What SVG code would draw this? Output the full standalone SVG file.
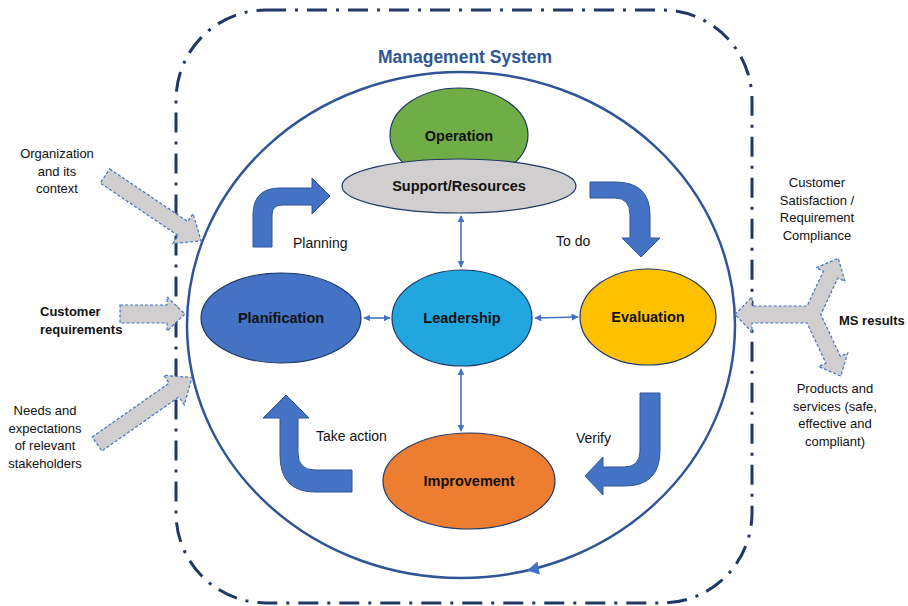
<svg xmlns="http://www.w3.org/2000/svg" width="908" height="606" viewBox="0 0 908 606">
<style>
.t{font-family:"Liberation Sans",Arial,sans-serif;font-size:13px;fill:#111}
.lb{font-family:"Liberation Sans",Arial,sans-serif;font-size:14px;fill:#111}
.nl{font-family:"Liberation Sans",Arial,sans-serif;font-size:14.5px;font-weight:bold;fill:#111;text-anchor:middle}
.b{font-weight:bold}
.node{stroke:#1F3864;stroke-width:1.2}
.blk{fill:#4472C4;stroke:#2F5597;stroke-width:1}
.gin{fill:#D0CECE;stroke:#4472C4;stroke-width:1.2;stroke-dasharray:3,2}
.conn{stroke:#4472C4;stroke-width:1.6;fill:none;marker-start:url(#ah);marker-end:url(#ah)}
</style>
<defs>
<marker id="ah" viewBox="0 0 10 10" refX="9" refY="5" markerWidth="4.5" markerHeight="4.5" orient="auto-start-reverse" markerUnits="strokeWidth">
<path d="M0,0 L10,5 L0,10 Z" fill="#4472C4"/>
</marker>
</defs>
<rect width="908" height="606" fill="#fff"/>

<g id="boundary">
<rect x="176" y="10" width="576" height="593" rx="90" ry="90" fill="none" stroke="#1F3864" stroke-width="3" stroke-dasharray="20,9,3,9"/>
<text x="465" y="63" text-anchor="middle" font-family="Liberation Sans,Arial,sans-serif" font-size="17.5" font-weight="bold" fill="#2F5597">Management System</text>
</g>

<g id="cycle">
<ellipse cx="461" cy="325" rx="274" ry="253" fill="none" stroke="#2F5597" stroke-width="2.5"/>
<path d="M527,570.5 L539.8,574.5 L537.4,561.5 Z" fill="#4472C4"/>
</g>

<g id="operation">
<ellipse class="node" cx="459" cy="135" rx="69" ry="47" fill="#70AD47"/>
<text class="nl" x="459" y="141">Operation</text>
</g>
<g id="support">
<ellipse class="node" cx="459" cy="186" rx="117" ry="27" fill="#D0CECE"/>
<text class="nl" x="459" y="191">Support/Resources</text>
</g>
<g id="planification">
<ellipse class="node" cx="281" cy="318" rx="80" ry="45" fill="#4472C4"/>
<text class="nl" x="281" y="323">Planification</text>
</g>
<g id="leadership">
<ellipse class="node" cx="462" cy="318" rx="70" ry="48" fill="#22A6E0"/>
<text class="nl" x="462" y="323">Leadership</text>
</g>
<g id="evaluation">
<ellipse class="node" cx="648" cy="317" rx="68" ry="48" fill="#FFC000"/>
<text class="nl" x="648" y="322">Evaluation</text>
</g>
<g id="improvement">
<ellipse class="node" cx="469" cy="481" rx="86" ry="48" fill="#ED7D31"/>
<text class="nl" x="469" y="486">Improvement</text>
</g>

<g id="connectors">
<line class="conn" x1="461" y1="216" x2="461" y2="267"/>
<line class="conn" x1="461" y1="369" x2="461" y2="431"/>
<line class="conn" x1="364" y1="318" x2="390" y2="318"/>
<line class="conn" x1="535" y1="318" x2="578" y2="317"/>
</g>

<g id="planning-arrow">
<path class="blk" d="M253,247 L253,215 Q253,188 280,188 L312,188 L312,178 L330,196 L312,214 L312,205 L282,205 Q272,205 272,215 L272,247 Z"/>
<text class="lb" x="293" y="248">Planning</text>
</g>
<g id="todo-arrow">
<path class="blk" d="M590,182 L615,182 Q650,182 650,215 L650,238 L660,238 L641,257 L622,238 L630,238 L630,215 Q630,198 615,198 L590,198 Z"/>
<text class="lb" x="556" y="246">To do</text>
</g>
<g id="verify-arrow">
<path class="blk" d="M640,393 L660,393 L660,450 Q660,486 625,486 L603,486 L603,495 L585,476 L603,457 L603,467 L624,467 Q640,467 640,451 Z"/>
<text class="lb" x="576" y="443">Verify</text>
</g>
<g id="action-arrow">
<path class="blk" d="M352,470 L315,470 Q298,470 298,453 L298,418 L309,418 L286,395 L263,418 L280,418 L280,455 Q280,492 315,492 L352,492 Z"/>
<text class="lb" x="316" y="441">Take action</text>
</g>

<g id="input-context">
<path class="gin" transform="translate(105,176) rotate(34)" d="M0,-8.5 L94,-8.5 L94,-18 L116,0 L94,18 L94,8.5 L0,8.5 Z"/>
<text class="t" text-anchor="middle"><tspan x="57" y="158">Organization</tspan><tspan x="57" y="176">and its</tspan><tspan x="57" y="193">context</tspan></text>
</g>
<g id="input-customer">
<path class="gin" d="M120,305 L167,305 L167,297 L185,314 L167,331 L167,323 L120,323 Z"/>
<text class="t b"><tspan x="40" y="316">Customer</tspan><tspan x="40" y="334">requirements</tspan></text>
</g>
<g id="input-needs">
<path class="gin" transform="translate(97,444) rotate(-35)" d="M0,-8.5 L94,-8.5 L94,-18 L116,0 L94,18 L94,8.5 L0,8.5 Z"/>
<text class="t" text-anchor="middle"><tspan x="45" y="415">Needs and</tspan><tspan x="45" y="433">expectations</tspan><tspan x="45" y="450">of relevant</tspan><tspan x="45" y="468">stakeholders</tspan></text>
</g>

<g id="ms-results">
<path class="gin" d="M735,314.5 L752,297 L752,306 L807.1,306 L823.4,271.2 L816.1,267.8 L838.2,258.3 L845.1,281.4 L837.9,278 L820.8,314.5 L840.4,356.4 L847.7,353 L840.8,376.1 L818.7,366.6 L825.9,363.2 L807.1,323 L752,323 L752,332 Z"/>
<text class="t b" x="839" y="325">MS results</text>
<text class="t" text-anchor="middle"><tspan x="817" y="187">Customer</tspan><tspan x="817" y="205">Satisfaction /</tspan><tspan x="817" y="222">Requirement</tspan><tspan x="817" y="240">Compliance</tspan></text>
<text class="t" text-anchor="middle"><tspan x="835" y="393">Products and</tspan><tspan x="835" y="411">services (safe,</tspan><tspan x="835" y="428">effective and</tspan><tspan x="835" y="446">compliant)</tspan></text>
</g>
</svg>
